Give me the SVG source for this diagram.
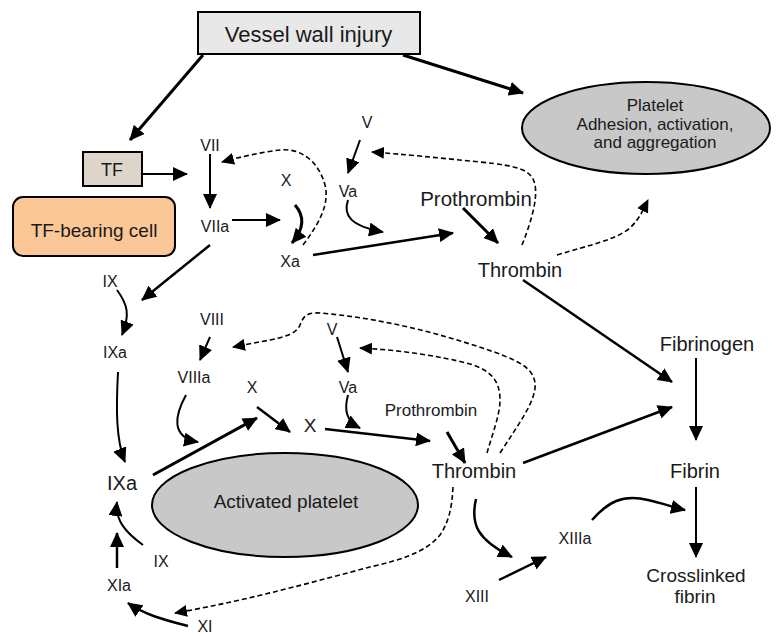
<svg xmlns="http://www.w3.org/2000/svg" width="776" height="636" viewBox="0 0 776 636">
<style>
text{font-family:"Liberation Sans",Arial,sans-serif;fill:#1a1a1a;text-anchor:middle}
.s{font-size:16px}
.m{font-size:20px}
.c{fill:none;stroke:#000;stroke-width:2.5;marker-end:url(#ah)}
.t{stroke-width:3}
.n{stroke-width:2}
.d{fill:none;stroke:#000;stroke-width:1.6;stroke-dasharray:5 3;marker-end:url(#ahs)}
.box{stroke:#000;stroke-width:2}
.ell{fill:#c8c8c8;stroke:#000;stroke-width:2}
</style>
<defs>
<marker id="ah" markerUnits="userSpaceOnUse" markerWidth="16" markerHeight="14" refX="14" refY="7" orient="auto" viewBox="0 0 16 14">
<path d="M0,0 L15,7 L0,14 z" fill="#000"/>
</marker>
<marker id="ahs" markerUnits="userSpaceOnUse" markerWidth="14" markerHeight="12" refX="12" refY="6" orient="auto" viewBox="0 0 14 12">
<path d="M0,0 L13,6 L0,12 z" fill="#000"/>
</marker>
</defs>
<rect width="776" height="636" fill="#fff"/>

<g id="connectors">
<path class="c t" d="M203,55 L130,140"/>
<path class="c t" d="M403,55 L523,93"/>
<path class="c n" d="M142,174 L187,174"/>
<path class="c n" d="M210,154 L210,208"/>
<path class="c n" d="M232,220 L280,220"/>
<path class="c t" d="M295,205 Q310,222 292,243"/>
<path class="d" d="M303,245 C318,225 330,205 325,185 C318,160 300,148 280,150 C262,152 240,157 222,162"/>
<path class="c n" d="M360,140 L348,173"/>
<path class="c n" d="M348,200 C343,215 350,226 383,232"/>
<path class="c" d="M313,255 L453,233"/>
<path class="c t" d="M463,208 L498,243"/>
<path class="d" d="M522,245 C530,225 538,200 535,185 C532,170 520,166 480,162 C440,158 400,154 372,152"/>
<path class="d" d="M557,255 C590,245 615,240 630,228 C640,218 643,210 648,200"/>
<path class="c" d="M210,245 L142,300"/>
<path class="c n" d="M117,290 C128,305 130,315 122,335"/>
<path class="c n" d="M118,372 C116,410 116,440 125,462"/>
<path class="c n" d="M210,337 L200,360"/>
<path class="c n" d="M186,395 C175,415 170,437 198,442"/>
<path class="d" d="M500,453 C518,425 537,400 535,383 C533,368 520,362 497,353 C440,333 380,318 320,313 C305,312 303,318 300,325 C297,332 290,336 270,340 L233,347"/>
<path class="d" d="M487,453 C492,435 500,415 500,400 C500,380 490,370 470,364 C440,356 400,350 360,348"/>
<path class="c n" d="M337,337 L348,372"/>
<path class="c n" d="M348,395 C344,410 346,421 360,428"/>
<path class="c" d="M257,407 L290,432"/>
<path class="c t" d="M153,475 L257,418"/>
<path class="c" d="M325,429 L430,441"/>
<path class="c t" d="M447,432 L465,463"/>
<path class="c" d="M523,463 L672,407"/>
<path class="c" d="M523,280 L672,382"/>
<path class="c n" d="M696,358 L696,440"/>
<path class="c n" d="M696,487 L696,557"/>
<path class="c" d="M592,520 C608,502 622,494 648,500 C662,503 672,507 685,510"/>
<path class="c" d="M476,499 C470,525 478,540 512,557"/>
<path class="c" d="M499,580 L546,557"/>
<path class="d" d="M453,487 C452,505 450,520 440,535 C425,553 400,560 370,567 C320,580 250,600 175,613"/>
<path class="c" d="M188,626 C165,620 145,615 128,603"/>
<path class="c" d="M117,568 L117,533"/>
<path class="c n" d="M143,545 C125,532 115,520 117,502"/>
</g>

<g id="vessel-wall-injury">
<rect class="box" x="198" y="12" width="222" height="42" fill="#e8e8e8"/>
<text x="308.5" y="42" style="font-size:22px">Vessel wall injury</text>
</g>
<g id="platelet-adhesion">
<ellipse class="ell" cx="646" cy="128" rx="124" ry="46"/>
<text x="655" y="111" style="font-size:17px">Platelet</text>
<text x="655" y="129.5" style="font-size:17px">Adhesion, activation,</text>
<text x="655" y="148" style="font-size:17px">and aggregation</text>
</g>
<g id="tf">
<rect class="box" x="83" y="152" width="59" height="34" fill="#dcd6ca"/>
<text x="112" y="176" style="font-size:18px">TF</text>
</g>
<g id="tf-bearing-cell">
<rect class="box" x="13" y="197" width="162" height="59" rx="10" fill="#fbc797"/>
<text x="94" y="237" style="font-size:19px">TF-bearing cell</text>
</g>
<g id="vii"><text class="s" x="210" y="151">VII</text></g>
<g id="viia"><text class="s" x="215" y="232">VIIa</text></g>
<g id="x-top"><text class="s" x="286" y="186">X</text></g>
<g id="xa"><text class="s" x="290" y="267">Xa</text></g>
<g id="v-top"><text class="s" x="367" y="128">V</text></g>
<g id="va-top"><text class="s" x="348" y="197">Va</text></g>
<g id="prothrombin-top"><text x="476" y="206" style="font-size:20.5px">Prothrombin</text></g>
<g id="thrombin-top"><text class="m" x="520" y="277">Thrombin</text></g>
<g id="ix-top"><text class="s" x="110" y="287">IX</text></g>
<g id="ixa-top"><text class="s" x="115" y="358">IXa</text></g>
<g id="viii"><text class="s" x="212" y="325">VIII</text></g>
<g id="viiia"><text class="s" x="194" y="383">VIIIa</text></g>
<g id="v-low"><text class="s" x="332" y="335">V</text></g>
<g id="va-low"><text class="s" x="348" y="393">Va</text></g>
<g id="x-low"><text class="s" x="252" y="393">X</text></g>
<g id="x-mid"><text x="310" y="432" style="font-size:19px">X</text></g>
<g id="prothrombin-low"><text x="431" y="416" style="font-size:17px">Prothrombin</text></g>
<g id="thrombin-low"><text class="m" x="474" y="478">Thrombin</text></g>
<g id="fibrinogen"><text class="m" x="707" y="351">Fibrinogen</text></g>
<g id="fibrin"><text class="m" x="695" y="478">Fibrin</text></g>
<g id="crosslinked-fibrin">
<text x="696" y="582" style="font-size:19px">Crosslinked</text>
<text x="695" y="603" style="font-size:19px">fibrin</text>
</g>
<g id="xiiia"><text class="s" x="575" y="544">XIIIa</text></g>
<g id="xiii"><text class="s" x="477" y="602">XIII</text></g>
<g id="ixa-low"><text class="m" x="122" y="490">IXa</text></g>
<g id="activated-platelet">
<ellipse class="ell" cx="285" cy="505" rx="133" ry="52"/>
<text x="286" y="508" style="font-size:19px">Activated platelet</text>
</g>
<g id="ix-low"><text class="s" x="161" y="567">IX</text></g>
<g id="xia"><text class="s" x="119" y="591">XIa</text></g>
<g id="xi"><text class="s" x="205" y="632">XI</text></g>
</svg>
